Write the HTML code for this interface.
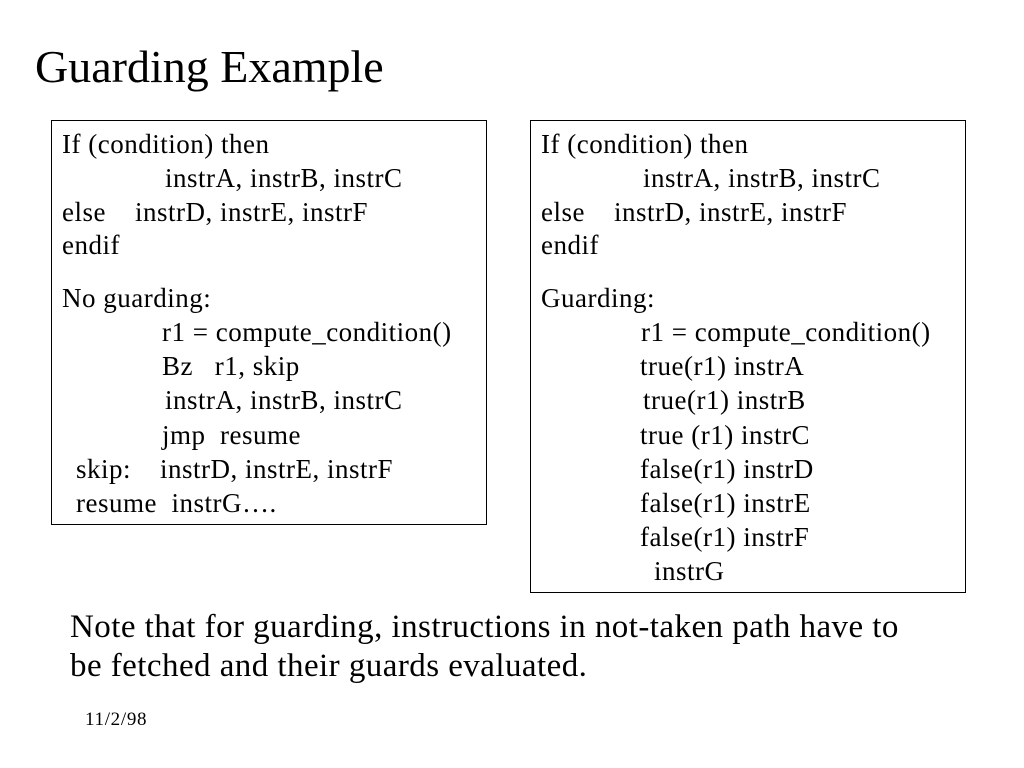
<!DOCTYPE html>
<html><head><meta charset="utf-8"><style>
body{margin:0;width:1024px;height:768px;background:#fff;position:relative;overflow:hidden;font-family:"Liberation Serif",serif;color:#000}
.t{position:absolute;white-space:pre;font-size:27px;letter-spacing:0.5px;line-height:30px}
.box{position:absolute;border:1px solid #000;box-sizing:border-box}
</style></head><body>
<div class="t" style="left:35px;top:40px;font-size:46px;letter-spacing:0;line-height:54px">Guarding Example</div>
<div class="box" style="left:51px;top:120px;width:436px;height:405px"></div>
<div class="box" style="left:530px;top:120px;width:436px;height:473px"></div>

<div class="t" style="left:62px;top:129px">If (condition) then</div>
<div class="t" style="left:165px;top:163px">instrA, instrB, instrC</div>
<div class="t" style="left:62px;top:197px">else    instrD, instrE, instrF</div>
<div class="t" style="left:62px;top:230px">endif</div>
<div class="t" style="left:62px;top:283px">No guarding:</div>
<div class="t" style="left:162px;top:317px">r1 = compute_condition()</div>
<div class="t" style="left:162px;top:351px">Bz   r1, skip</div>
<div class="t" style="left:165px;top:385px">instrA, instrB, instrC</div>
<div class="t" style="left:162px;top:420px">jmp  resume</div>
<div class="t" style="left:76px;top:454px">skip:    instrD, instrE, instrF</div>
<div class="t" style="left:76px;top:488px">resume  instrG….</div>

<div class="t" style="left:541px;top:129px">If (condition) then</div>
<div class="t" style="left:643px;top:163px">instrA, instrB, instrC</div>
<div class="t" style="left:541px;top:197px">else    instrD, instrE, instrF</div>
<div class="t" style="left:541px;top:230px">endif</div>
<div class="t" style="left:541px;top:283px">Guarding:</div>
<div class="t" style="left:641px;top:317px">r1 = compute_condition()</div>
<div class="t" style="left:640px;top:351px">true(r1) instrA</div>
<div class="t" style="left:643px;top:385px">true(r1) instrB</div>
<div class="t" style="left:640px;top:420px">true (r1) instrC</div>
<div class="t" style="left:640px;top:454px">false(r1) instrD</div>
<div class="t" style="left:640px;top:488px">false(r1) instrE</div>
<div class="t" style="left:640px;top:522px">false(r1) instrF</div>
<div class="t" style="left:654px;top:556px">instrG</div>

<div class="t" style="left:70px;top:607px;font-size:33px;letter-spacing:0.45px;line-height:40px">Note that for guarding, instructions in not-taken path have to</div>
<div class="t" style="left:70px;top:646px;font-size:33px;letter-spacing:0.45px;line-height:40px">be fetched and their guards evaluated.</div>
<div class="t" style="left:85px;top:708px;font-size:19px;letter-spacing:0.7px;line-height:24px">11/2/98</div>
</body></html>
